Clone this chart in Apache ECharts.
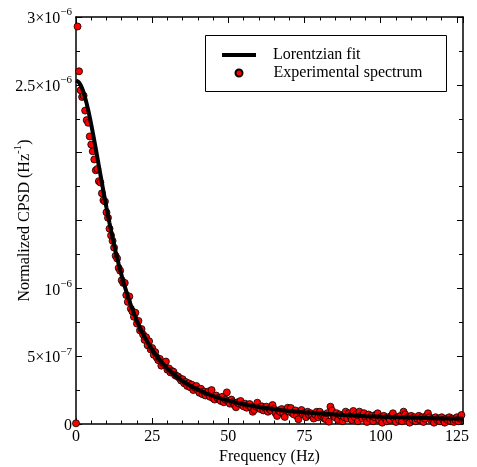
<!DOCTYPE html>
<html><head><meta charset="utf-8">
<script src="https://cdn.jsdelivr.net/npm/echarts@6/dist/echarts.min.js"></script>
<style>html,body{margin:0;padding:0;background:#fff}#c{width:477px;height:467px}</style>
</head><body><div id="c"></div>
<script>
// Experimental spectrum, values in units of 1e-6 Hz^-1, on a 0.5 Hz frequency grid
const spectrumStartHz = 0;
const spectrumStepHz = 0.5;
const spectrumValues = [
  0.005, 2.93, 2.60, 2.46, 2.41, 2.42, 2.31, 2.24, 2.22, 2.12,   // 0 - 4.5 Hz
  2.06, 2.01, 1.95, 1.87, 1.88, 1.79, 1.78, 1.70, 1.65, 1.64,    // 5 - 9.5
  1.56, 1.52, 1.44, 1.39, 1.35, 1.30, 1.24, 1.22, 1.15, 1.13,    // 10 - 14.5
  1.06, 1.04, 1.04, 0.95, 0.90, 0.94, 0.85, 0.83, 0.79, 0.82,    // 15 - 19.5
  0.74, 0.76, 0.69, 0.70, 0.66, 0.62, 0.64, 0.58, 0.61, 0.55,    // 20 - 24.5
  0.56, 0.51, 0.53, 0.49, 0.47, 0.48, 0.43, 0.45, 0.44, 0.46,    // 25 - 29.5
  0.40, 0.41, 0.38, 0.39, 0.385, 0.36, 0.354, 0.35, 0.337, 0.32, // 30 - 34.5
  0.33, 0.30, 0.31, 0.28, 0.30, 0.27, 0.29, 0.25, 0.27, 0.28,    // 35 - 39.5
  0.25, 0.23, 0.26, 0.22, 0.24, 0.21, 0.23, 0.24, 0.20, 0.25,    // 40 - 44.5
  0.19, 0.18, 0.21, 0.19, 0.19, 0.17, 0.20, 0.16, 0.18, 0.233,   // 45 - 49.5
  0.17, 0.15, 0.18, 0.16, 0.14, 0.123, 0.16, 0.15, 0.17, 0.14,   // 50 - 54.5
  0.13, 0.15, 0.12, 0.14, 0.147, 0.12, 0.09, 0.103, 0.13, 0.157, // 55 - 59.5
  0.12, 0.11, 0.13, 0.10, 0.12, 0.128, 0.09, 0.11, 0.10, 0.14,   // 60 - 64.5
  0.11, 0.08, 0.059, 0.10, 0.09, 0.11, 0.08, 0.052, 0.10, 0.12,  // 65 - 69.5
  0.09, 0.118, 0.08, 0.07, 0.10, 0.06, 0.035, 0.09, 0.103, 0.07, // 70 - 74.5
  0.08, 0.05, 0.09, 0.066, 0.08, 0.06, 0.04, 0.07, 0.09, 0.05,   // 75 - 79.5
  0.09, 0.06, 0.07, 0.04, 0.035, 0.08, 0.017, 0.128, 0.10, 0.06, // 80 - 84.5
  0.05, 0.08, 0.03, 0.07, 0.06, 0.02, 0.05, 0.091, 0.04, 0.079,  // 85 - 89.5
  0.06, 0.03, 0.096, 0.05, 0.07, 0.02, 0.091, 0.06, 0.04, 0.08,  // 90 - 94.5
  0.05, 0.015, 0.07, 0.04, 0.06, 0.02, 0.05, 0.07, 0.079, 0.03,  // 95 - 99.5
  0.05, 0.01, 0.06, 0.04, 0.02, 0.05, 0.03, 0.06, 0.079, 0.04,   // 100 - 104.5
  0.015, 0.05, 0.03, 0.06, 0.02, 0.091, 0.07, 0.04, 0.05, 0.01,  // 105 - 109.5
  0.06, 0.03, 0.05, 0.02, 0.04, 0.06, 0.03, 0.05, 0.015, 0.04,   // 110 - 114.5
  0.06, 0.079, 0.05, 0.03, 0.04, 0.01, 0.05, 0.03, 0.04, 0.02,   // 115 - 119.5
  0.05, 0.03, 0.01, 0.04, 0.03, 0.05, 0.02, 0.04, 0.015, 0.03,   // 120 - 124.5
  0.05, 0.02, 0.04, 0.066                                        // 125 - 126.5
];

// Lorentzian fit (units of 1e-6 Hz^-1)
const fitFreqs = [0,1,2,3,4,5,6,7,8,9,10,11,12,13,14,15,16,17,18,19,20,22,24,26,28,30,32,34,36,38,40,43,46,50,55,60,65,70,75,80,85,90,95,100,105,110,115,120,127];
const fitValues = [2.532,2.517,2.474,2.405,2.314,2.207,2.089,1.966,1.840,1.716,1.595,1.481,1.373,1.272,1.179,1.093,1.014,0.942,0.876,0.816,0.760,0.664,0.584,0.516,0.459,0.410,0.369,0.333,0.303,0.276,0.253,0.223,0.198,0.172,0.145,0.125,0.109,0.096,0.086,0.077,0.070,0.064,0.058,0.054,0.050,0.047,0.044,0.041,0.038];

const xMin = 0, xMax = 127, xInterval = 25;
const yMin = 0, yMax = 3, yInterval = 0.5;
const yTickLabels = [[0, '{b|0}'], [0.5, '{b|5×10}{s|−7}'], [1, '{b|10}{s|−6}'], [2.5, '{b|2.5×10}{s|−6}'], [3, '{b|3×10}{s|−6}']];

const seriesNames = ['Lorentzian fit', 'Experimental spectrum'];
const xName = 'Frequency (Hz)';
const yName = '{b|Normalized CPSD (Hz}{s|-1}{b|)}';

const FONT = "'Liberation Serif','Times New Roman',serif";
const scatterData = spectrumValues.map((v, i) => [spectrumStartHz + i * spectrumStepHz, v]);
const fitData = fitFreqs.map((f, i) => [f, fitValues[i]]);

const rich = {
  b: { fontFamily: FONT, fontSize: 16, color: '#000', lineHeight: 20, verticalAlign: 'bottom' },
  s: { fontFamily: FONT, fontSize: 11, color: '#000', lineHeight: 20, verticalAlign: 'top' }
};

const axisLineStyle = { color: '#000', width: 1.5 };
function xAxisCfg(pos, showLabels) {
  return {
    type: 'value', position: pos, min: xMin, max: xMax, interval: xInterval,
    axisLine: { show: true, onZero: false, lineStyle: axisLineStyle },
    axisTick: { show: true, inside: true, length: 6, lineStyle: { color: '#000', width: 1 } },
    minorTick: { show: true, splitNumber: 5, length: 3.5, lineStyle: { color: '#000', width: 1 } },
    splitLine: { show: false },
    axisLabel: { show: showLabels, fontFamily: FONT, fontSize: 16, color: '#000', margin: 5, showMaxLabel: false },
    name: showLabels ? xName : '', nameLocation: 'middle', nameGap: 25, nameMoveOverlap: false,
    nameTextStyle: { fontFamily: FONT, fontSize: 16, color: '#000' }
  };
}
function yAxisCfg(pos, showLabels) {
  return {
    type: 'value', position: pos, min: yMin, max: yMax, interval: yInterval,
    axisLine: { show: true, onZero: false, lineStyle: axisLineStyle },
    axisTick: { show: true, inside: true, length: 6, lineStyle: { color: '#000', width: 1 } },
    minorTick: { show: true, splitNumber: 2, length: 4, lineStyle: { color: '#000', width: 1 } },
    splitLine: { show: false },
    axisLabel: {
      show: showLabels, margin: 4, rich: rich,
      formatter: function (v) {
        const hit = yTickLabels.find(p => Math.abs(p[0] - v) < 1e-9);
        return hit ? hit[1] : '';
      }
    },
    name: showLabels ? yName : '', nameLocation: 'middle', nameGap: 43, nameRotate: 90, nameMoveOverlap: false,
    nameTextStyle: { rich: rich }
  };
}

const chart = echarts.init(document.getElementById('c'), null, { renderer: 'canvas' });
chart.setOption({
  animation: false,
  backgroundColor: '#fff',
  grid: { left: 76, right: 14, top: 17, bottom: 43, containLabel: false, outerBoundsMode: 'none' },
  xAxis: [xAxisCfg('bottom', true), xAxisCfg('top', false)],
  yAxis: [yAxisCfg('left', true), yAxisCfg('right', false)],
  legend: [
    {
      data: [{ name: seriesNames[0], icon: 'rect' }], left: 222, top: 47, padding: 0,
      itemWidth: 34, itemHeight: 4, selectedMode: false,
      textStyle: { fontFamily: FONT, fontSize: 16, color: '#000', padding: [0, 0, 0, 12] }
    },
    {
      data: [{ name: seriesNames[1], icon: 'circle' }], left: 234.5, top: 65, padding: 0,
      itemWidth: 7, itemHeight: 7, selectedMode: false,
      textStyle: { fontFamily: FONT, fontSize: 16, color: '#000', padding: [0, 0, 0, 26] }
    }
  ],
  graphic: [{
    type: 'rect', z: 3, silent: true,
    shape: { x: 205.5, y: 35.5, width: 241, height: 56 },
    style: { fill: '#fff', stroke: '#000', lineWidth: 1 }
  }],
  series: [
    {
      name: seriesNames[1], type: 'scatter', data: scatterData, z: 2,
      symbol: 'circle', symbolSize: 7,
      itemStyle: { color: '#ff0000', borderColor: '#000', borderWidth: 0.8, opacity: 1 }
    },
    {
      name: seriesNames[0], type: 'line', data: fitData, z: 3,
      symbol: 'none', smooth: 0.3, color: '#000',
      lineStyle: { color: '#000', width: 4 }, itemStyle: { color: '#000' }
    }
  ]
});
</script></body></html>
